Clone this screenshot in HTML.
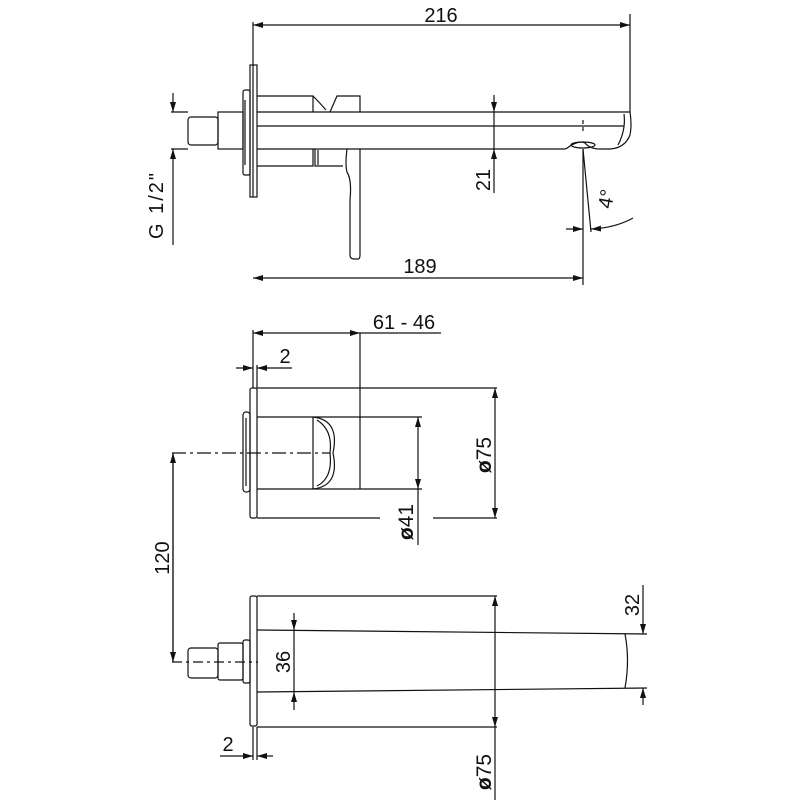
<!DOCTYPE html>
<html><head><style>html,body{margin:0;padding:0;background:#fff}svg{display:block}</style></head>
<body>
<svg width="800" height="800" viewBox="0 0 800 800" xmlns="http://www.w3.org/2000/svg" font-family="Liberation Sans, sans-serif" fill="none" stroke="#111" stroke-width="1.2">
<defs>
<marker id="a" viewBox="0 0 10 6" refX="10" refY="3" markerWidth="10" markerHeight="6" orient="auto-start-reverse" markerUnits="userSpaceOnUse"><path d="M0,0 L10,3 L0,6 Z" fill="#111" stroke="none"/></marker>
</defs>

<!-- ===== TOP VIEW ===== -->
<line x1="253" y1="22" x2="253" y2="197"/>
<line x1="630" y1="14" x2="630" y2="112"/>
<line x1="253" y1="25" x2="630" y2="25" marker-start="url(#a)" marker-end="url(#a)"/>
<text x="441" y="22" font-size="20" fill="#111" stroke="none" text-anchor="middle">216</text>

<rect x="250" y="65" width="7" height="132"/>
<rect x="243" y="90" width="7" height="85" rx="2"/>
<line x1="245" y1="100" x2="245" y2="165"/>
<rect x="218" y="112" width="25" height="37"/>
<rect x="188" y="117" width="30" height="28" rx="3"/>
<line x1="257" y1="112" x2="630" y2="112"/>
<line x1="257" y1="126" x2="624" y2="126"/>
<line x1="257" y1="149" x2="565" y2="149"/>
<path d="M257,96 H313 V112 M313,96 Q320,103 326,110 M330,112 L337,96 H360 V112"/>
<path d="M257,166 H313 V149 M315,149 V166 H343"/>
<path d="M347,149 Q345,165 347,172 Q352,180 350,200 L350,255 Q350,259 354,259 H358 Q360,259 360,255 V149"/>
<line x1="318" y1="150" x2="318" y2="165"/>
<path d="M630,112 Q632,125 630,135 Q625,148 610,149 H600 Q590,149 585,143 Q580,140 570,146 Q566,149 565,149"/>
<path d="M624,114 Q626,130 618,145"/>
<ellipse cx="583" cy="145" rx="12" ry="3"/>
<line x1="583" y1="120" x2="583" y2="132" stroke-dasharray="4 3"/>
<line x1="494" y1="95" x2="494" y2="112" marker-end="url(#a)"/>
<line x1="494" y1="193" x2="494" y2="149" marker-end="url(#a)"/>
<line x1="494" y1="112" x2="494" y2="149"/>
<text transform="translate(490,180) rotate(-90)" font-size="20" fill="#111" stroke="none" text-anchor="middle">21</text>
<line x1="171" y1="112" x2="188" y2="112"/>
<line x1="171" y1="149" x2="188" y2="149"/>
<line x1="173" y1="93" x2="173" y2="112" marker-end="url(#a)"/>
<line x1="173" y1="245" x2="173" y2="149" marker-end="url(#a)"/>
<text transform="translate(163,205) rotate(-90)" font-size="20" fill="#111" stroke="none" text-anchor="middle" letter-spacing="2">G 1/2"</text>
<line x1="583" y1="149" x2="583" y2="285"/>
<line x1="583" y1="149" x2="591" y2="232"/>
<line x1="253" y1="278" x2="583" y2="278" marker-start="url(#a)" marker-end="url(#a)"/>
<text x="420" y="273" font-size="20" fill="#111" stroke="none" text-anchor="middle">189</text>
<line x1="566" y1="229" x2="583" y2="229" marker-end="url(#a)"/>
<path d="M633,218 Q615,228 591,229" marker-end="url(#a)"/>
<text transform="translate(613,200) rotate(-80)" font-size="20" fill="#111" stroke="none" text-anchor="middle">4°</text>

<!-- ===== MIDDLE VIEW ===== -->
<line x1="253" y1="330" x2="253" y2="388"/>
<line x1="360" y1="333" x2="360" y2="489"/>
<line x1="253" y1="333" x2="360" y2="333" marker-start="url(#a)" marker-end="url(#a)"/>
<line x1="360" y1="333" x2="441" y2="333"/>
<text x="404" y="329" font-size="20" fill="#111" stroke="none" text-anchor="middle">61 - 46</text>
<line x1="236" y1="368" x2="253" y2="368" marker-end="url(#a)"/>
<line x1="292" y1="368" x2="257" y2="368" marker-end="url(#a)"/>
<line x1="257" y1="365" x2="257" y2="388"/>
<text x="285" y="363" font-size="20" fill="#111" stroke="none" text-anchor="middle">2</text>

<rect x="250" y="388" width="7" height="130" rx="2"/>
<rect x="243" y="412" width="7" height="80" rx="3"/>
<line x1="246" y1="418" x2="246" y2="486"/>
<line x1="257" y1="388" x2="497" y2="388"/>
<line x1="257" y1="518" x2="380" y2="518"/>
<line x1="433" y1="518" x2="497" y2="518"/>
<line x1="257" y1="417" x2="422" y2="417"/>
<line x1="257" y1="489" x2="422" y2="489"/>
<path d="M313,417 V489 M313,417 Q340,420 333,453 Q340,486 313,489"/>
<path d="M317,420 Q333,430 330,453 Q333,478 317,486"/>
<line x1="172" y1="453" x2="330" y2="453" stroke-dasharray="14 4 3 4"/>
<line x1="495" y1="388" x2="495" y2="518" marker-start="url(#a)" marker-end="url(#a)"/>
<text transform="translate(491,455) rotate(-90)" font-size="21" fill="#111" stroke="none" text-anchor="middle"><tspan font-weight="bold">ø</tspan>75</text>
<line x1="418" y1="417" x2="418" y2="489" marker-start="url(#a)" marker-end="url(#a)"/>
<line x1="418" y1="489" x2="418" y2="545"/>
<text transform="translate(413,522) rotate(-90)" font-size="21" fill="#111" stroke="none" text-anchor="middle"><tspan font-weight="bold">ø</tspan>41</text>
<line x1="173" y1="662" x2="173" y2="453" marker-end="url(#a)"/>
<line x1="173" y1="453" x2="173" y2="662" marker-end="url(#a)"/>
<text transform="translate(169,558) rotate(-90)" font-size="20" fill="#111" stroke="none" text-anchor="middle">120</text>

<!-- ===== BOTTOM VIEW ===== -->
<rect x="250" y="596" width="7" height="130" rx="2"/>
<line x1="257" y1="596" x2="497" y2="596"/>
<line x1="257" y1="727" x2="497" y2="727"/>
<line x1="257" y1="630" x2="647" y2="634"/>
<line x1="257" y1="692" x2="647" y2="688"/>
<path d="M625,634 Q630,660 625,688"/>
<rect x="243" y="640" width="7" height="43" rx="2"/>
<rect x="218" y="643" width="25" height="37" rx="2"/>
<rect x="188" y="648" width="30" height="30" rx="3"/>
<line x1="172" y1="662" x2="258" y2="662" stroke-dasharray="10 4 3 4"/>
<line x1="294" y1="613" x2="294" y2="630" marker-end="url(#a)"/>
<line x1="294" y1="710" x2="294" y2="692" marker-end="url(#a)"/>
<line x1="294" y1="630" x2="294" y2="692"/>
<text transform="translate(290,662) rotate(-90)" font-size="20" fill="#111" stroke="none" text-anchor="middle">36</text>
<line x1="495" y1="596" x2="495" y2="727" marker-start="url(#a)" marker-end="url(#a)"/>
<line x1="495" y1="727" x2="495" y2="800"/>
<text transform="translate(491,772) rotate(-90)" font-size="21" fill="#111" stroke="none" text-anchor="middle"><tspan font-weight="bold">ø</tspan>75</text>
<line x1="643" y1="585" x2="643" y2="634" marker-end="url(#a)"/>
<line x1="643" y1="705" x2="643" y2="688" marker-end="url(#a)"/>
<text transform="translate(639,605) rotate(-90)" font-size="20" fill="#111" stroke="none" text-anchor="middle">32</text>
<line x1="253" y1="727" x2="253" y2="760"/>
<line x1="257" y1="727" x2="257" y2="760"/>
<line x1="220" y1="756" x2="253" y2="756" marker-end="url(#a)"/>
<line x1="273" y1="756" x2="257" y2="756" marker-end="url(#a)"/>
<text x="228" y="751" font-size="20" fill="#111" stroke="none" text-anchor="middle">2</text>
</svg>
</body></html>
